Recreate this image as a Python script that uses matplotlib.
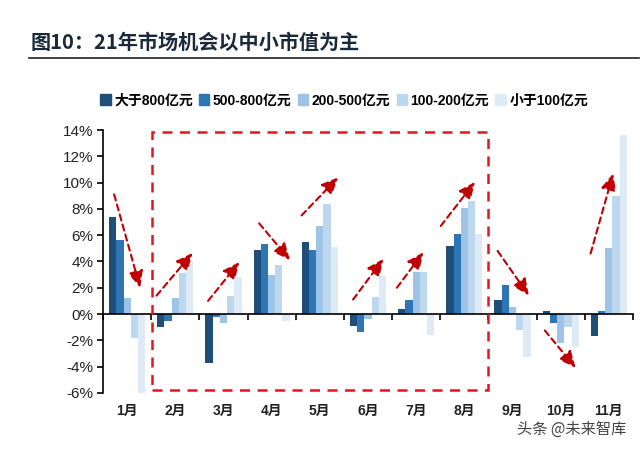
import numpy as np
import matplotlib.pyplot as plt
from matplotlib.patches import Rectangle
from matplotlib.lines import Line2D

plt.rcParams['font.family'] = ['Liberation Sans', 'Noto Sans CJK SC', 'DejaVu Sans']

months = ["1月", "2月", "3月", "4月", "5月", "6月", "7月", "8月", "9月", "10月", "11月"]
series_names = ["大于800亿元", "500-800亿元", "200-500亿元", "100-200亿元", "小于100亿元"]
colors = ["#1f4e79", "#2e75b6", "#9dc3e6", "#bdd7ee", "#deebf7"]

cap_800 = [7.4, -1.0, -3.7, 4.9, 5.5, -0.9, 0.4, 5.2, 1.1, 0.25, -1.7]
cap_500_800 = [5.6, -0.5, -0.2, 5.3, 4.9, -1.4, 1.1, 6.1, 2.2, -0.7, 0.25]
cap_200_500 = [1.2, 1.2, -0.7, 3.0, 6.7, -0.4, 3.2, 8.1, 0.5, -2.2, 5.0]
cap_100_200 = [-1.8, 3.1, 1.4, 3.7, 8.4, 1.3, 3.2, 8.6, -1.2, -1.0, 9.0]
cap_below_100 = [-6.1, 4.0, 2.8, -0.5, 5.1, 2.9, -1.6, 6.1, -3.3, -2.5, 13.6]
values = [cap_800, cap_500_800, cap_200_500, cap_100_200, cap_below_100]

# trend arrows: (x0, y0, x1, y1) in data units
arrows = [
    (-0.27, 9.1, 0.27, 2.0),
    (0.61, 1.4, 1.36, 4.65),
    (1.68, 1.0, 2.33, 3.95),
    (2.74, 6.9, 3.38, 4.1),
    (3.62, 7.5, 4.38, 10.4),
    (4.69, 1.1, 5.32, 4.2),
    (5.60, 2.0, 6.15, 4.7),
    (6.51, 6.7, 7.22, 10.05),
    (7.69, 4.8, 8.34, 1.4),
    (8.67, -1.25, 9.31, -4.1),
    (9.62, 4.6, 10.09, 10.7),
]
box = (0.52, -5.75, 7.49, 13.85)

fig = plt.figure(figsize=(6.4, 4.5), dpi=100)
ax = fig.add_axes([0.161, 0.127, 0.828, 0.584])

x = np.arange(len(months))
w = 0.15
for i, (vals, c, name) in enumerate(zip(values, colors, series_names)):
    ax.bar(x + (i - 2) * w, vals, width=w, color=c, label=name, zorder=2)

ax.set_xlim(-0.5, len(months) - 0.5)
ax.set_ylim(-6, 14)
ax.set_yticks(np.arange(-6, 15, 2))
ax.set_yticklabels(["%d%%" % v for v in np.arange(-6, 15, 2)], fontsize=11, color="#222222")
ax.tick_params(axis="y", length=4, width=1.2, pad=3)

for s in ["top", "right"]:
    ax.spines[s].set_visible(False)
ax.spines["left"].set_linewidth(1.2)
ax.spines["bottom"].set_position(("data", 0))
ax.spines["bottom"].set_linewidth(1.2)
ax.set_xticks(np.arange(-0.5, len(months), 1.0))
ax.set_xticklabels([])
ax.tick_params(axis="x", direction="out", length=4, width=1.2)

sec = ax.secondary_xaxis(0)
sec.set_xticks(x)
sec.set_xticklabels(months, fontsize=10, fontweight="bold", color="#222222")
sec.tick_params(length=0, pad=8)
sec.spines["bottom"].set_visible(False)

ax.add_patch(Rectangle((box[0], box[1]), box[2] - box[0], box[3] - box[1],
                       fill=False, edgecolor="#e8141b", linestyle=(0, (4, 3)),
                       linewidth=1.8, zorder=3, clip_on=False))

for x0, y0, x1, y1 in arrows:
    ax.annotate("", xy=(x1, y1), xytext=(x0, y0),
                arrowprops=dict(arrowstyle="-|>,head_length=1.0,head_width=0.45",
                                color="#c00000", linestyle=(0, (3, 2)), lw=1.5,
                                shrinkA=0, shrinkB=0),
                annotation_clip=False, zorder=4)

handles = [Rectangle((0, 0), 1, 1, color=c) for c in colors]
leg = fig.legend(handles, series_names, loc="center left", bbox_to_anchor=(0.137, 0.777),
                 ncol=5, frameon=False, handlelength=0.75, handleheight=0.75,
                 handletextpad=0.25, columnspacing=0.45,
                 prop=dict(family=['Liberation Sans', 'Noto Sans CJK SC'], size=10, weight="bold"))

fig.text(0.047, 0.905, "图10：21年市场机会以中小市值为主", fontsize=14.5, fontweight="bold",
         color="#1a2a3a", family=['Noto Sans CJK SC', 'DejaVu Sans'], va="center")
fig.add_artist(Line2D([0.045, 0.998], [0.871, 0.871], color="#222222", lw=1.2))

fig.text(0.978, 0.047, "头条 @未来智库", fontsize=11, color="#444444",
         family=['Noto Sans CJK SC', 'DejaVu Sans'], ha="right", va="center")

fig.savefig("out.png", dpi=100)
